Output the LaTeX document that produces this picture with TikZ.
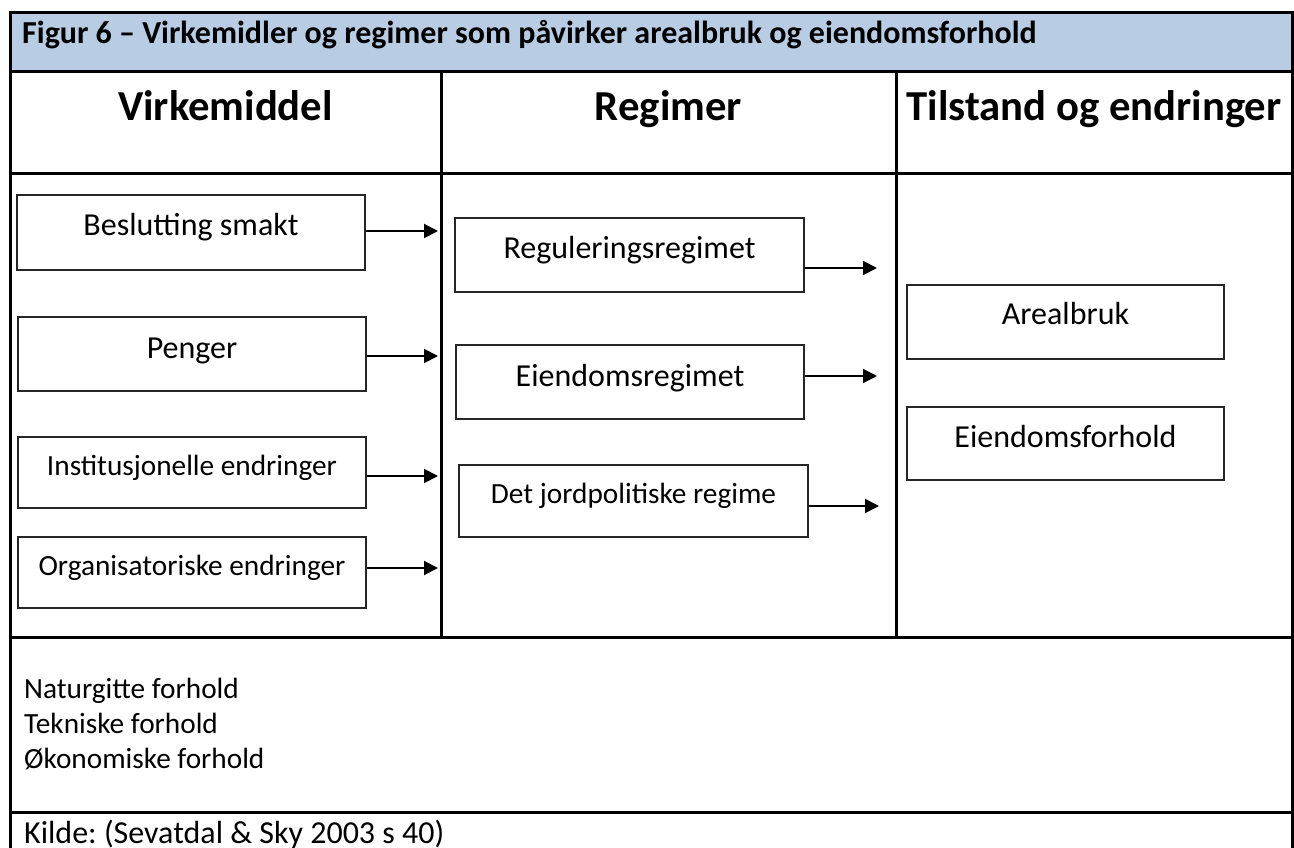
\documentclass[tikz,border=0pt]{standalone}
\usepackage{fontspec}
\setmainfont{Carlito}
\usetikzlibrary{arrows.meta}
\definecolor{titleblue}{RGB}{184,204,228}
\frenchspacing
\begin{document}
\begin{tikzpicture}[x=1pt,y=-1pt,
  frame/.style={line width=3pt, black},
  box/.style={draw=black!85, line width=2pt, inner sep=0pt, anchor=north west},
  bl/.style={anchor=base, inner sep=0pt, font=\fontsize{32}{38}\selectfont},
  bs/.style={anchor=base, inner sep=0pt, font=\fontsize{29.3}{35}\selectfont},
  arr/.style={line width=2pt, -{Triangle[length=14pt,width=14pt]}},
  hdr/.style={anchor=base, inner sep=0pt, font=\bfseries\fontsize{42.7}{50}\selectfont},
  ttl/.style={anchor=base west, inner sep=0pt, font=\bfseries\fontsize{32}{38}\selectfont},
  body/.style={anchor=base west, inner sep=0pt, font=\fontsize{29.3}{35}\selectfont},
  srcstyle/.style={anchor=base west, inner sep=0pt, font=\fontsize{32}{38}\selectfont}]
\useasboundingbox (0,0) rectangle (1294,848);
% table frame
\fill[titleblue] (10,13) rectangle (1292,72);
\draw[frame] (10,848) -- (10,13) -- (1292,13) -- (1292,848);
\draw[frame] (10,72) -- (1292,72);
\draw[frame] (10,174) -- (1292,174);
\draw[frame] (10,637) -- (1292,637);
\draw[frame] (10,812) -- (1292,812);
\draw[frame] (441,72) -- (441,637);
\draw[frame] (896,72) -- (896,637);
% title and headers
\node[ttl] (title) at (22,44) {Figur 6 – Virkemidler og regimer som påvirker arealbruk og eiendomsforhold};
\node[hdr] (h1) at (225.5,121) {Virkemiddel};
\node[hdr] (h2) at (668.5,121) {Regimer};
\node[hdr] (h3) at (1094,121) {Tilstand og endringer};
% column 1 boxes
\node[box, minimum width=348pt, minimum height=75pt, label={[bl, yshift=-42pt]north:Beslutting smakt}] (b1) at (16,194) {};
\node[box, minimum width=348pt, minimum height=74pt, label={[bl, yshift=-42pt]north:Penger}] (b2) at (17,316) {};
\node[box, minimum width=348pt, minimum height=71pt, label={[bs, yshift=-39pt]north:Institusjonelle endringer}] (b3) at (17,436) {};
\node[box, minimum width=348pt, minimum height=71pt, label={[bs, yshift=-39pt]north:Organisatoriske endringer}] (b4) at (17,536) {};
% column 2 boxes
\node[box, minimum width=349pt, minimum height=74pt, label={[bl, yshift=-41pt]north:Reguleringsregimet}] (r1) at (454,217) {};
\node[box, minimum width=348pt, minimum height=74pt, label={[bl, yshift=-42pt]north:Eiendomsregimet}] (r2) at (455,344) {};
\node[box, minimum width=349pt, minimum height=72pt, label={[bs, yshift=-39pt]north:Det jordpolitiske regime}] (r3) at (458,464) {};
% column 3 boxes
\node[box, minimum width=317pt, minimum height=74pt, label={[bl, yshift=-40pt]north:Arealbruk}] (t1) at (906,284) {};
\node[box, minimum width=317pt, minimum height=73pt, label={[bl, yshift=-41pt]north:Eiendomsforhold}] (t2) at (906,406) {};
% arrow ends
\coordinate (e1) at (438,231);
\coordinate (e2) at (438,356);
\coordinate (e3) at (438,476);
\coordinate (e4) at (438,568);
\coordinate (f1) at (877,268);
\coordinate (f2) at (877,376);
\coordinate (f3) at (879,506);
\draw[arr] (b1.east |- e1) -- (e1);
\draw[arr] (b2.east |- e2) -- (e2);
\draw[arr] (b3.east |- e3) -- (e3);
\draw[arr] (b4.east |- e4) -- (e4);
\draw[arr] (r1.east |- f1) -- (f1);
\draw[arr] (r2.east |- f2) -- (f2);
\draw[arr] (r3.east |- f3) -- (f3);
% bottom texts
\node[body] (n1) at (24,698) {Naturgitte forhold};
\node[body] (n2) at (24,733) {Tekniske forhold};
\node[body] (n3) at (24,768) {Økonomiske forhold};
\node[srcstyle] (src) at (24,843) {Kilde: (Sevatdal \& Sky 2003 s 40)};
\end{tikzpicture}
\end{document}
